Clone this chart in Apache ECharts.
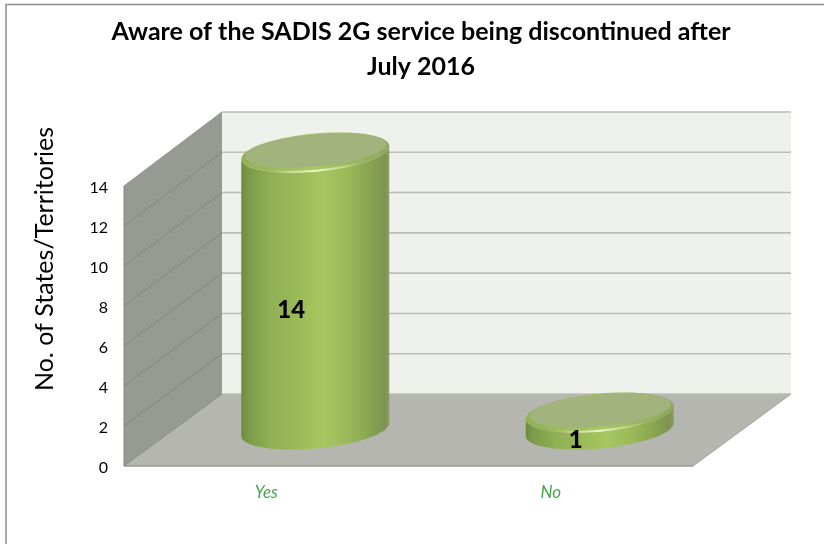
<!DOCTYPE html>
<html><head><meta charset="utf-8">
<style>html,body{margin:0;padding:0;background:#fff}#c{width:824px;height:544px}</style>
<script src="https://cdn.jsdelivr.net/npm/echarts@6/dist/echarts.min.js"></script>
</head><body><div id="c"></div>
<script>
const categories = ['Yes', 'No'];
const values = [14, 1];
const yTicks = [0, 2, 4, 6, 8, 10, 12, 14];
const titleText = 'Aware of the SADIS 2G service being discontinued after\nJuly 2016';
const yName = 'No. of States/Territories';

const DX = 98, DY0 = -72, DSCALE = 282 / 280;
const chart = echarts.init(document.getElementById('c'), null, {renderer: 'canvas'});
const back = (p, bottom) => [p[0] + DX, bottom + DY0 - (bottom - p[1]) * DSCALE];
const RX = 74, SHEAR = 6.5, RY = 19;
function ring(cx, cy, rx, shear, ry, a, b, n) {
  const pts = [];
  for (let i = 0; i <= n; i++) {
    const t = a + (b - a) * i / n;
    pts.push([cx + rx * Math.cos(t), cy - shear * Math.cos(t) + ry * Math.sin(t)]);
  }
  return pts;
}
function renderWalls(params, api) {
  const cs = params.coordSys;
  const bottom = cs.y + cs.height, left = cs.x, right = cs.x + cs.width;
  const fl = [left, bottom], fr = [right, bottom];
  const bl = back(fl, bottom), br = back(fr, bottom);
  const topF = api.coord([0, yTicks[yTicks.length - 1]]);
  const tl = [left, topF[1]];
  const btl = back(tl, bottom), btr = [br[0], btl[1]];
  const ch = [
    {type: 'polygon', shape: {points: [bl, br, btr, btl]}, style: {fill: '#eff1ec'}},
    {type: 'polygon', shape: {points: [fl, fr, br, bl]}, style: {fill: '#b4b6af'}},
    {type: 'polygon', shape: {points: [fl, bl, btl, tl]}, style: {fill: '#979a92'}},
    {type: 'line', shape: {x1: fl[0], y1: fl[1], x2: fr[0], y2: fr[1]}, style: {stroke: '#96988f', lineWidth: 1.5}},
    {type: 'line', shape: {x1: fl[0], y1: fl[1], x2: tl[0], y2: tl[1]}, style: {stroke: '#85887f', lineWidth: 1}},
    {type: 'line', shape: {x1: fl[0], y1: fl[1], x2: bl[0], y2: bl[1]}, style: {stroke: '#8a8d84', lineWidth: 1}},
    {type: 'line', shape: {x1: fr[0], y1: fr[1], x2: br[0], y2: br[1]}, style: {stroke: '#a0a29a', lineWidth: 1}}
  ];
  yTicks.forEach(v => {
    const y = api.coord([0, v])[1];
    const a = [left, y], b = back(a, bottom);
    if (v > 0) ch.push({type: 'line', shape: {x1: a[0], y1: a[1], x2: b[0], y2: b[1]}, style: {stroke: v === 14 ? '#8f928a' : '#83867e', lineWidth: 1}});
    ch.push({type: 'line', shape: {x1: b[0], y1: b[1], x2: br[0], y2: b[1]}, style: {stroke: '#bcbdb6', lineWidth: 1.6}});
  });
  return {type: 'group', children: ch};
}
function renderCylinder(params, api) {
  const base = api.coord([api.value(0), 0]);
  const top = api.coord([api.value(0), api.value(1)]);
  const mid = api.coord([api.value(0), api.value(1) / 2]);
  const cx = base[0] + 49, by = base[1] - 36.5, ty = top[1] - 36.5 + 3;
  const sidePts = ring(cx, ty, RX, SHEAR, RY, Math.PI, 0, 30).concat(ring(cx, by, RX, SHEAR, RY, 0, Math.PI, 40));
  const side = new echarts.graphic.LinearGradient(0, 0, 1, 0, [
    {offset: 0, color: '#6f8c42'}, {offset: 0.05, color: '#7c9b49'}, {offset: 0.2, color: '#90b054'},
    {offset: 0.4, color: '#9cbc59'}, {offset: 0.55, color: '#a6c761'}, {offset: 0.72, color: '#9ab958'},
    {offset: 0.86, color: '#8aa651'}, {offset: 0.97, color: '#7d9450'}, {offset: 1, color: '#8a9d66'}
  ]);
  const rim = new echarts.graphic.LinearGradient(0, 0, 1, 0, [
    {offset: 0, color: '#93b05a'}, {offset: 0.5, color: '#a8c865'}, {offset: 1, color: '#8fa65c'}
  ]);
  const glow = new echarts.graphic.LinearGradient(0, 0, 1, 0, [
    {offset: 0, color: 'rgba(240,248,200,0)'}, {offset: 0.5, color: 'rgba(240,248,205,0.95)'}, {offset: 1, color: 'rgba(240,248,200,0)'}
  ]);
  return {type: 'group', children: [
    {type: 'polygon', shape: {points: sidePts}, style: {fill: side}},
    {type: 'polygon', shape: {points: ring(cx, ty, RX, SHEAR, RY, 0, Math.PI * 2, 80)}, style: {fill: rim}},
    {type: 'polyline', shape: {points: ring(cx, ty, RX - 1, SHEAR, RY - 0.8, Math.PI * 0.3, Math.PI * 0.7, 30)}, style: {stroke: glow, lineWidth: 2, fill: null}},
    {type: 'polygon', shape: {points: ring(cx + 0.7, ty - 2.3, RX - 3.5, SHEAR - 0.5, RY - 3, 0, Math.PI * 2, 80)}, style: {fill: '#a3b37e'}},
    {type: 'text', x: base[0] + 25, y: mid[1] - 16, z2: 20, style: {
      text: String(api.value(1)), fill: '#000', font: '900 24px Lato', textAlign: 'center', textVerticalAlign: 'middle'
    }}
  ]};
}
chart.setOption({
  animation: false,
  backgroundColor: '#fff',
  title: {text: titleText, left: 416, top: 9, textAlign: 'center',
    textStyle: {fontFamily: 'Lato', fontWeight: 'bold', fontSize: 25, lineHeight: 35, color: '#000'}},
  grid: {left: 124, top: 186, width: 569, height: 280, containLabel: false},
  xAxis: {type: 'category', data: categories, axisLine: {show: false}, axisTick: {show: false},
    axisLabel: {color: '#43a84a', fontFamily: 'Lato', fontStyle: 'italic', fontSize: 17, margin: 18}},
  yAxis: {type: 'value', min: 0, max: 14, interval: 2, axisLine: {show: false}, axisTick: {show: false},
    splitLine: {show: false},
    axisLabel: {color: '#000', fontFamily: 'Lato', fontSize: 16, margin: 16, verticalAlign: 'top', lineHeight: 3},
    name: yName, nameLocation: 'middle', nameRotate: 90, nameGap: 67,
    nameTextStyle: {color: '#000', fontFamily: 'Lato', fontSize: 25, padding: [0, 0, 0, 134]}},
  graphic: [{type: 'rect', silent: true, z: -1, shape: {x: 6, y: 4.5, width: 900, height: 700}, style: {fill: 'none', stroke: '#8c8c8c', lineWidth: 1.5}}],
  series: [
    {type: 'custom', name: 'walls', coordinateSystem: 'cartesian2d', clip: false, z: 1, silent: true,
      data: [[0, 0]], renderItem: renderWalls},
    {type: 'custom', name: 'Aware', coordinateSystem: 'cartesian2d', clip: false, z: 2,
      encode: {x: 0, y: 1}, data: values.map((v, i) => [i, v]), renderItem: renderCylinder}
  ]
});
</script></body></html>
